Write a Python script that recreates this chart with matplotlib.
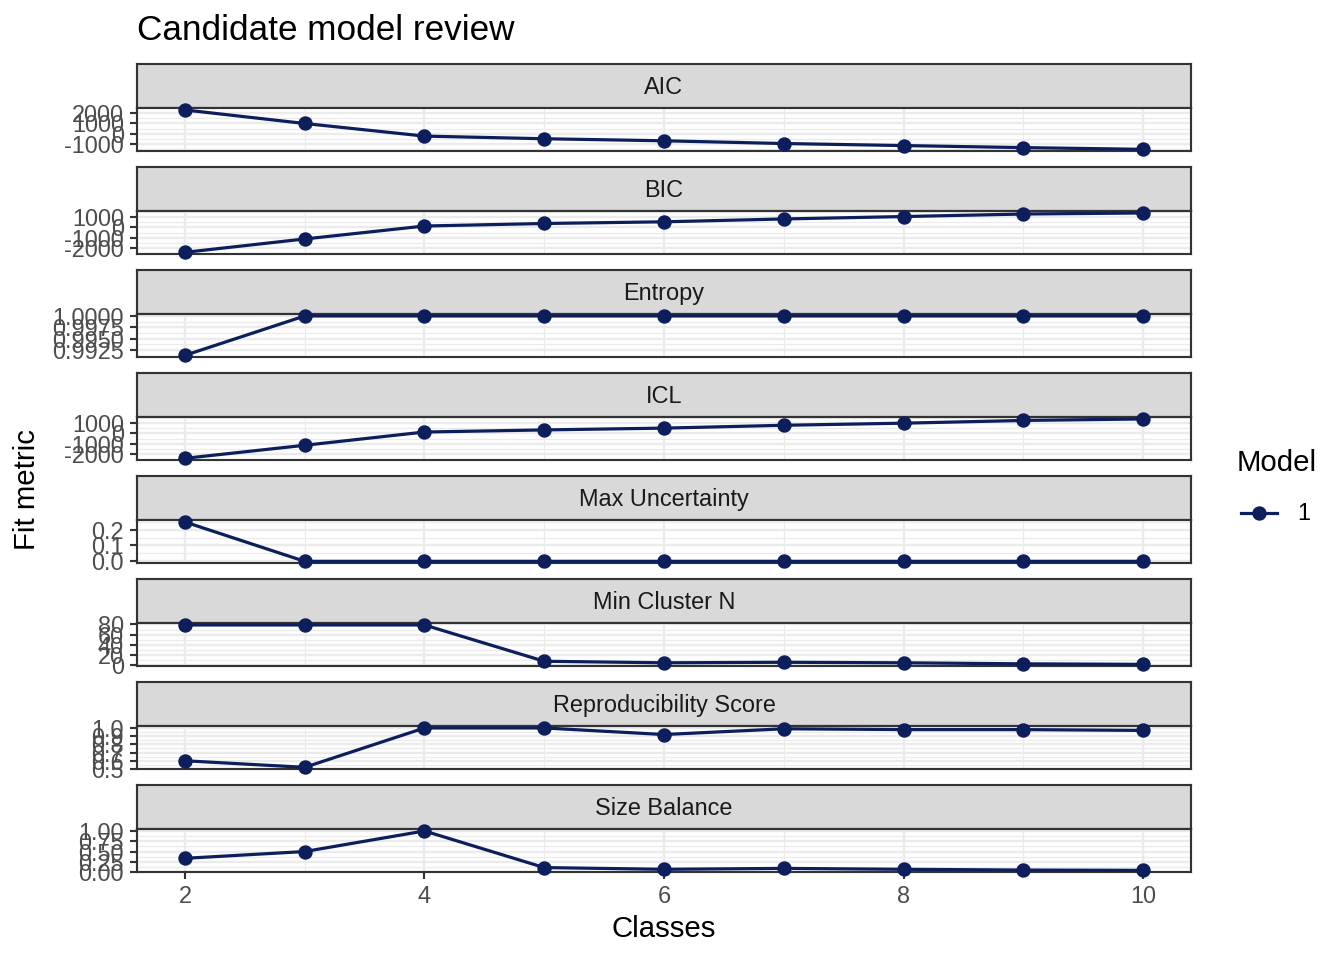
import numpy as np
import matplotlib
matplotlib.use('Agg')
from matplotlib import pyplot as plt
from matplotlib.lines import Line2D

plt.rcParams['font.family'] = ['Liberation Sans', 'DejaVu Sans']

classes = [2, 3, 4, 5, 6, 7, 8, 9, 10]
metrics = ['AIC', 'BIC', 'Entropy', 'ICL', 'Max Uncertainty',
           'Min Cluster N', 'Reproducibility Score', 'Size Balance']

aic = [2330, 1000, -240, -500, -700, -970, -1170, -1370, -1540]
bic = [-2370, -1100, 130, 370, 530, 800, 1030, 1270, 1370]
entropy = [0.9913, 1.0, 1.0, 1.0, 1.0, 1.0, 1.0, 1.0, 1.0]
icl = [-2370, -1130, 130, 330, 500, 770, 970, 1230, 1370]
max_unc = [0.248, 0.0, 0.0, 0.0, 0.0, 0.0, 0.0, 0.0, 0.0]
min_n = [79, 79, 79, 8, 5, 6, 5, 3, 2]
repro = [0.60, 0.52, 1.0, 1.0, 0.92, 0.99, 0.98, 0.98, 0.97]
size_bal = [0.335, 0.50, 1.0, 0.11, 0.068, 0.09, 0.068, 0.05, 0.043]

values = [aic, bic, entropy, icl, max_unc, min_n, repro, size_bal]

yticks = [
    [-1000, 0, 1000, 2000],
    [-2000, -1000, 0, 1000],
    [0.9925, 0.9950, 0.9975, 1.0000],
    [-2000, -1000, 0, 1000],
    [0.0, 0.1, 0.2],
    [0, 20, 40, 60, 80],
    [0.5, 0.6, 0.7, 0.8, 0.9, 1.0],
    [0.00, 0.25, 0.50, 0.75, 1.00],
]
ytick_labels = [
    ['-1000', '0', '1000', '2000'],
    ['-2000', '-1000', '0', '1000'],
    ['0.9925', '0.9950', '0.9975', '1.0000'],
    ['-2000', '-1000', '0', '1000'],
    ['0.0', '0.1', '0.2'],
    ['0', '20', '40', '60', '80'],
    ['0.5', '0.6', '0.7', '0.8', '0.9', '1.0'],
    ['0.00', '0.25', '0.50', '0.75', '1.00'],
]
xticks = [2, 4, 6, 8, 10]

W, H = 1344, 960
DPI = 192
line_col = '#0c1f5c'
grey20 = '#333333'
grey30 = '#4d4d4d'
grid_col = '#ebebeb'


def rect(left, top, width, height):
    return [left / W, 1 - (top + height) / H, width / W, height / H]


fig = plt.figure(figsize=(W / DPI, H / DPI), dpi=DPI)

px_left, px_right = 137, 1191
strip_h, panel_h, step = 44, 43.3, 103.0
top0 = 64

xlo, xhi = min(classes), max(classes)
xpad = 0.05 * (xhi - xlo)

for i, (name, vals) in enumerate(zip(metrics, values)):
    top = top0 + i * step
    # strip
    sax = fig.add_axes(rect(px_left, top, px_right - px_left, strip_h))
    sax.set_facecolor('#d9d9d9')
    sax.set_xticks([])
    sax.set_yticks([])
    for s in sax.spines.values():
        s.set_color(grey20)
        s.set_linewidth(0.8)
    sax.text(0.5, 0.46, name, ha='center', va='center', fontsize=8.8,
             color='#1a1a1a', transform=sax.transAxes)

    ax = fig.add_axes(rect(px_left, top + strip_h, px_right - px_left, panel_h))
    v = np.array(vals, dtype=float)
    lo, hi = v.min(), v.max()
    pad = 0.05 * (hi - lo)

    yt = yticks[i]
    ax.set_yticks(yt)
    ax.set_yticklabels(ytick_labels[i])
    d = yt[1] - yt[0]
    ax.set_yticks([yt[0] - d / 2] + [a + d / 2 for a in yt], minor=True)
    ax.set_xticks(xticks)
    ax.set_xticks([3, 5, 7, 9], minor=True)
    # limits after ticks so the minor ticks do not widen the view
    ax.set_ylim(lo - pad, hi + pad)
    ax.set_xlim(xlo - xpad, xhi + xpad)
    if i < len(metrics) - 1:
        ax.tick_params(axis='x', which='major', length=0, labelbottom=False)
    else:
        ax.tick_params(axis='x', which='major', length=2.75, width=0.8,
                       color=grey20, labelsize=8.8, labelcolor=grey30, pad=2.2)
    ax.tick_params(axis='y', which='major', length=2.75, width=0.8,
                   color=grey20, labelsize=8.8, labelcolor=grey30, pad=2.2)
    ax.tick_params(which='minor', length=0)
    ax.grid(True, which='major', color=grid_col, linewidth=0.9)
    ax.grid(True, which='minor', color=grid_col, linewidth=0.45)
    ax.set_axisbelow(True)
    for s in ax.spines.values():
        s.set_color(grey20)
        s.set_linewidth(0.8)
    ax.plot(classes, vals, '-o', color=line_col, lw=1.2, ms=4.4,
            clip_on=False, zorder=3)

fig.text(px_left / W, 1 - 30 / H, 'Candidate model review', fontsize=13.2,
         ha='left', va='center')
fig.text((px_left + px_right) / 2 / W, 1 - 929 / H, 'Classes', fontsize=11,
         ha='center', va='center')
fig.text(27 / W, 1 - 490 / H, 'Fit metric', fontsize=11, rotation=90,
         ha='center', va='center')

# legend drawn by hand to mimic ggplot's guide layout
fig.text(1237 / W, 1 - 463 / H, 'Model', fontsize=11, ha='left', va='center')
key = Line2D([1241 / W, 1277 / W], [1 - 513 / H, 1 - 513 / H],
             transform=fig.transFigure, color=line_col, lw=1.2)
dot = Line2D([1259 / W], [1 - 513 / H], transform=fig.transFigure,
             color=line_col, marker='o', ms=4.4, lw=0)
fig.add_artist(key)
fig.add_artist(dot)
fig.text(1297 / W, 1 - 514 / H, '1', fontsize=8.8, ha='left', va='center')

fig.savefig('out.png', dpi=DPI)
